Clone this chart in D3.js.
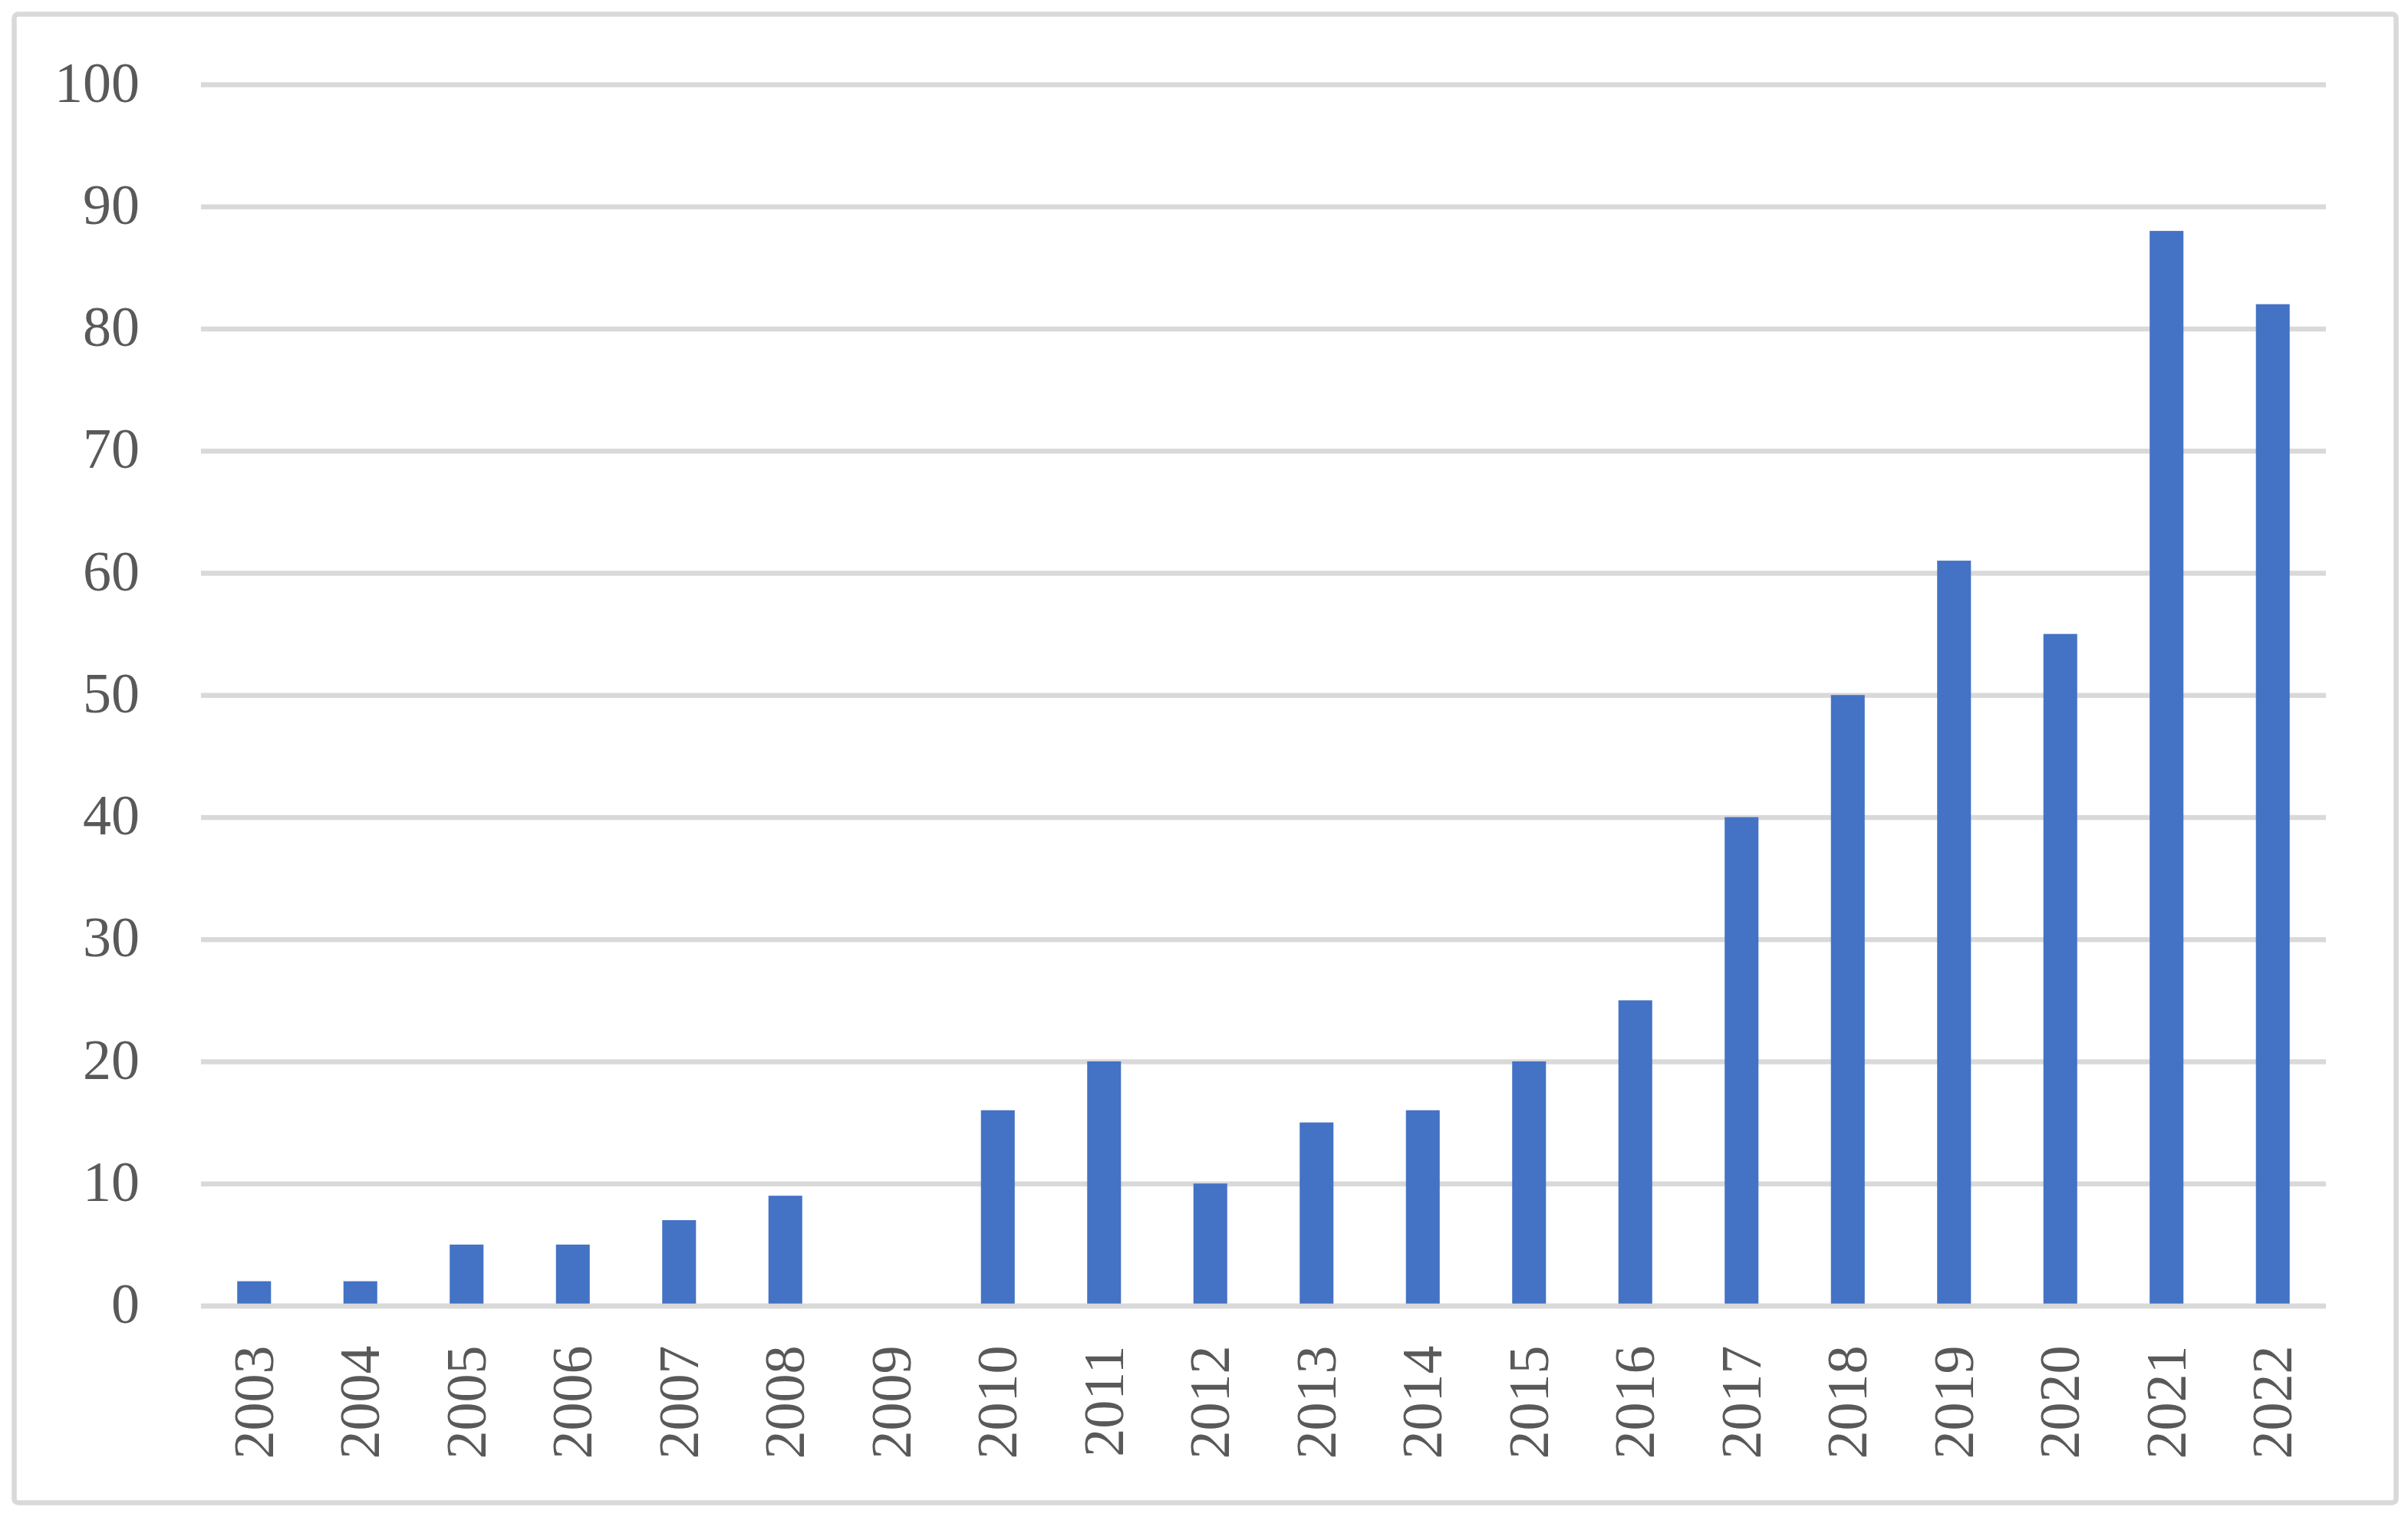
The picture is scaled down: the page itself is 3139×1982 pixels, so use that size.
<!DOCTYPE html>
<html>
<head>
<meta charset="utf-8">
<script src="https://cdn.jsdelivr.net/npm/d3@7"></script>
<style>
  html, body { margin: 0; padding: 0; background: #ffffff; }
  svg { display: block; }
</style>
</head>
<body>
<svg id="chart" width="3139" height="1982"></svg>
<script>
const years = ["2003","2004","2005","2006","2007","2008","2009","2010","2011","2012",
               "2013","2014","2015","2016","2017","2018","2019","2020","2021","2022"];
const counts = [2, 2, 5, 5, 7, 9, 0, 16, 20, 10, 15, 16, 20, 25, 40, 50, 61, 55, 88, 82];
const yTicks = [0, 10, 20, 30, 40, 50, 60, 70, 80, 90, 100];

const W = 3139, H = 1982;
const margin = { left: 262, right: W - 3032, top: 110, bottom: H - 1702.5 };
const innerW = W - margin.left - margin.right;
const innerH = H - margin.top - margin.bottom;

const svg = d3.select("#chart");

// outer border
svg.append("rect")
  .attr("x", 18.5).attr("y", 18.5)
  .attr("width", 3105).attr("height", 1941)
  .attr("rx", 5).attr("ry", 5)
  .attr("fill", "#ffffff")
  .attr("stroke", "#d9d9d9")
  .attr("stroke-width", 6.5);

const g = svg.append("g").attr("transform", `translate(${margin.left},${margin.top})`);

const x = d3.scaleBand().domain(years).range([0, innerW]).paddingInner(0.682).paddingOuter(0.341);
const y = d3.scaleLinear().domain([0, 100]).range([innerH, 0]);

const fontFamily = "'Liberation Serif', 'DejaVu Serif', serif";

// y axis with gridlines
const yAxis = g.append("g")
  .call(d3.axisLeft(y).tickValues(yTicks).tickSize(-innerW).tickPadding(80).tickFormat(d3.format("d")));
yAxis.select(".domain").remove();
yAxis.selectAll(".tick line").attr("stroke", "#d9d9d9").attr("stroke-width", 6.5);
yAxis.selectAll(".tick text")
  .attr("fill", "#595959")
  .attr("font-family", fontFamily)
  .attr("font-size", 74)
  .attr("dy", "0.3em");

// bars
g.selectAll("rect.bar")
  .data(years.map((yr, i) => ({ yr, v: counts[i] })))
  .enter().append("rect")
  .attr("class", "bar")
  .attr("x", d => x(d.yr))
  .attr("width", x.bandwidth())
  .attr("y", d => y(d.v))
  .attr("height", d => innerH - y(d.v))
  .attr("fill", "#4472c4");

// baseline drawn over bar bottoms
g.append("line")
  .attr("x1", 0).attr("x2", innerW)
  .attr("y1", y(0) + 0.5).attr("y2", y(0) + 0.5)
  .attr("stroke", "#d9d9d9").attr("stroke-width", 6.5);

// x axis labels
const xAxis = g.append("g")
  .attr("transform", `translate(0,${innerH})`)
  .call(d3.axisBottom(x).tickSize(0).tickPadding(0));
xAxis.select(".domain").remove();
xAxis.selectAll(".tick text")
  .attr("fill", "#595959")
  .attr("font-family", fontFamily)
  .attr("font-size", 74)
  .attr("text-anchor", "end")
  .attr("transform", "rotate(-90)")
  .attr("x", -52)
  .attr("y", 0)
  .attr("dy", "0.33em");
</script>
</body>
</html>
